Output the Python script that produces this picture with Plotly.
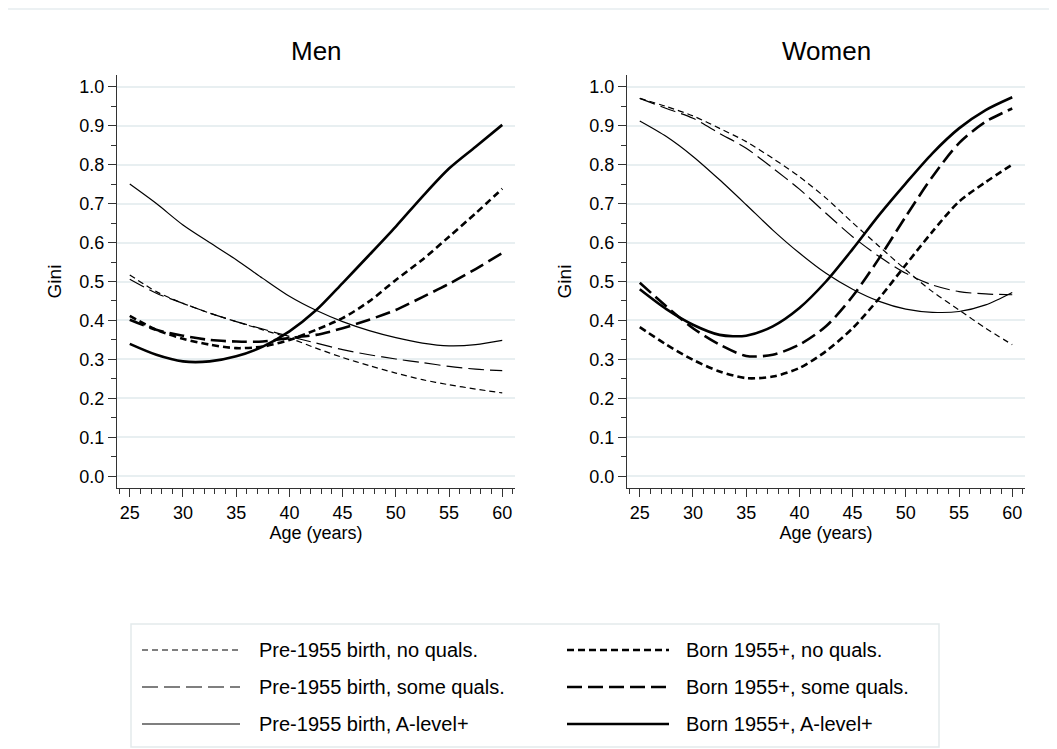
import plotly.graph_objects as go

# ages (every 2.5 years)
ages = [25, 27.5, 30, 32.5, 35, 37.5, 40, 42.5, 45, 47.5, 50, 52.5, 55, 57.5, 60]

series_names = [
    "Pre-1955 birth, no quals.",
    "Born 1955+, no quals.",
    "Pre-1955 birth, some quals.",
    "Born 1955+, some quals.",
    "Pre-1955 birth, A-level+",
    "Born 1955+, A-level+",
]

# Men
men_pre_noq = [0.517, 0.474, 0.444, 0.419, 0.397, 0.376, 0.355, 0.329, 0.305, 0.284, 0.265, 0.248, 0.235, 0.224, 0.214]
men_born_noq = [0.412, 0.376, 0.353, 0.338, 0.329, 0.333, 0.350, 0.376, 0.406, 0.449, 0.504, 0.556, 0.615, 0.675, 0.738]
men_pre_some = [0.506, 0.470, 0.444, 0.419, 0.397, 0.378, 0.359, 0.342, 0.325, 0.312, 0.301, 0.292, 0.282, 0.275, 0.271]
men_born_some = [0.402, 0.376, 0.361, 0.350, 0.346, 0.346, 0.355, 0.363, 0.380, 0.402, 0.427, 0.460, 0.494, 0.532, 0.573]
men_pre_alev = [0.750, 0.700, 0.645, 0.600, 0.556, 0.508, 0.462, 0.426, 0.397, 0.374, 0.356, 0.342, 0.335, 0.338, 0.349]
men_born_alev = [0.340, 0.312, 0.295, 0.295, 0.308, 0.333, 0.372, 0.426, 0.496, 0.568, 0.641, 0.718, 0.790, 0.846, 0.902]

# Women
women_pre_noq = [0.970, 0.949, 0.925, 0.893, 0.859, 0.816, 0.769, 0.714, 0.651, 0.590, 0.530, 0.474, 0.427, 0.380, 0.338]
women_born_noq = [0.383, 0.338, 0.299, 0.269, 0.252, 0.256, 0.278, 0.321, 0.380, 0.457, 0.543, 0.628, 0.705, 0.755, 0.800]
women_pre_some = [0.970, 0.944, 0.919, 0.880, 0.842, 0.791, 0.737, 0.675, 0.615, 0.564, 0.521, 0.491, 0.474, 0.468, 0.466]
women_born_some = [0.497, 0.436, 0.380, 0.338, 0.309, 0.312, 0.338, 0.385, 0.462, 0.560, 0.667, 0.769, 0.855, 0.910, 0.944]
women_pre_alev = [0.912, 0.872, 0.821, 0.761, 0.697, 0.632, 0.573, 0.521, 0.480, 0.449, 0.429, 0.421, 0.423, 0.440, 0.472]
women_born_alev = [0.480, 0.429, 0.389, 0.363, 0.361, 0.385, 0.432, 0.500, 0.583, 0.671, 0.752, 0.829, 0.893, 0.940, 0.973]

y_ticks = [0.0, 0.1, 0.2, 0.3, 0.4, 0.5, 0.6, 0.7, 0.8, 0.9, 1.0]
x_ticks = [25, 30, 35, 40, 45, 50, 55, 60]

men = [men_pre_noq, men_born_noq, men_pre_some, men_born_some, men_pre_alev, men_born_alev]
women = [women_pre_noq, women_born_noq, women_pre_some, women_born_some, women_pre_alev, women_born_alev]

# line styles (width, dash) in the same order as series_names
styles = [
    (1.2, "6px,4px"),
    (2.6, "7px,4px"),
    (1.2, "16px,6px"),
    (2.6, "15px,6px"),
    (1.2, "solid"),
    (2.6, "solid"),
]

FONT = "Liberation Sans, Arial, sans-serif"
# the page puts the figure 8px in from the top-left corner
OFF = 8
W, H = 1057 - OFF, 749 - OFF


def px(x):
    return (x - OFF) / W


def py(y):
    return 1 - (y - OFF) / H


fig = go.Figure()

for vals, (w, d), name in zip(men, styles, series_names):
    fig.add_trace(go.Scatter(x=ages, y=vals, mode="lines", name=name, showlegend=False,
                             line=dict(color="black", width=w, dash=d, shape="spline", smoothing=0.8),
                             xaxis="x", yaxis="y"))
for vals, (w, d), name in zip(women, styles, series_names):
    fig.add_trace(go.Scatter(x=ages, y=vals, mode="lines", name=name, showlegend=False,
                             line=dict(color="black", width=w, dash=d, shape="spline", smoothing=0.8),
                             xaxis="x2", yaxis="y2"))

xax = dict(range=[23.8, 61.2], tickvals=x_ticks, ticks="outside", ticklen=8, tickwidth=1,
           tickcolor="#333", showline=True, linecolor="#333", linewidth=1, showgrid=False,
           zeroline=False, tickfont=dict(size=18, color="black"),
           minor=dict(dtick=1, ticks="outside", ticklen=5, tickcolor="#333", showgrid=False),
           title=dict(text="Age (years)", font=dict(size=18, color="black"), standoff=2))
yax = dict(range=[-0.03, 1.03], tickvals=y_ticks, tickformat=".1f", ticks="outside", ticklen=8,
           tickwidth=1, tickcolor="#333", showline=True, linecolor="#333", linewidth=1,
           showgrid=True, gridcolor="#e8eff1", gridwidth=1.5, zeroline=False,
           tickfont=dict(size=18, color="black"),
           minor=dict(dtick=0.05, ticks="outside", ticklen=5, tickcolor="#333", showgrid=False),
           title=dict(text="Gini", font=dict(size=19, color="black"), standoff=12))

fig.update_layout(
    width=W, height=H, margin=dict(l=0, r=0, t=0, b=0),
    paper_bgcolor="white", plot_bgcolor="white",
    font=dict(family=FONT, color="black"),
    xaxis=dict(domain=[px(117), px(515)], anchor="y", **xax),
    yaxis=dict(domain=[py(488), py(75)], anchor="x", **yax),
    xaxis2=dict(domain=[px(627), px(1025)], anchor="y2", **xax),
    yaxis2=dict(domain=[py(488), py(75)], anchor="x2", **yax),
)

# panel titles
for txt, xc in [("Men", 316), ("Women", 826)]:
    fig.add_annotation(text=txt, x=px(xc), y=py(68), xref="paper", yref="paper",
                       xanchor="center", yanchor="bottom", showarrow=False,
                       font=dict(size=26, color="black"))

# faint outer border line at the top
fig.add_shape(type="line", xref="paper", yref="paper", x0=0, x1=1, y0=1 - 1 / H, y1=1 - 1 / H,
              line=dict(color="#e6edef", width=1.5))

# legend box
fig.add_shape(type="rect", xref="paper", yref="paper", x0=px(131), x1=px(939),
              y0=py(747), y1=py(624), line=dict(color="#e3eaec", width=1.5),
              fillcolor="white", layer="below")

# legend keys: two columns, three rows
col_x = [(142, 240, 257), (567, 669, 684)]
row_y = [650, 687, 724]
for i, (name, (w, d)) in enumerate(zip(series_names, styles)):
    row, col = i // 2, i % 2
    x0, x1, xt = col_x[col]
    yy = py(row_y[row])
    fig.add_shape(type="line", xref="paper", yref="paper", x0=px(x0), x1=px(x1), y0=yy, y1=yy,
                  line=dict(color="black", width=w, dash=d))
    fig.add_annotation(text=name, x=px(xt), y=yy, xref="paper", yref="paper",
                       xanchor="left", yanchor="middle", showarrow=False,
                       font=dict(size=20, color="black"))

fig.write_html("out.html")
